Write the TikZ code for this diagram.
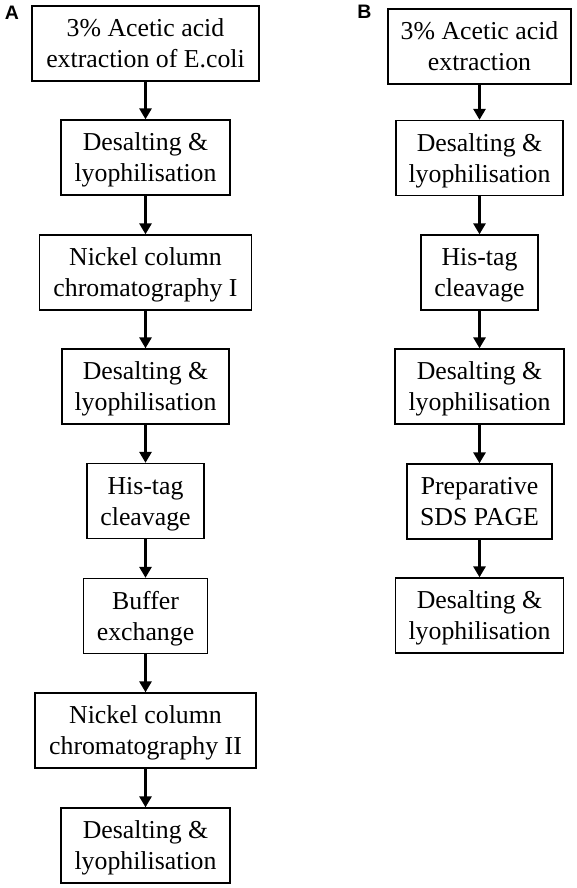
\documentclass[tikz,border=0pt]{standalone}
\usepackage{fontspec}
\setmainfont{Liberation Serif}
\newfontfamily\labfont{Liberation Sans}
\usetikzlibrary{arrows.meta}
\newcommand\ws{\rule[-0.216em]{0pt}{1.107em}}
\begin{document}
\begin{tikzpicture}[x=1pt,y=-1pt,
  stepbox/.style={draw, line width=1.3pt, inner sep=0pt, minimum height=75pt,
    align=center, font=\fontsize{25.8}{31}\selectfont},
  flow/.style={line width=3.2pt, -{Triangle[width=12pt,length=11pt]}},
  panel/.style={inner sep=0pt, font=\labfont\bfseries\fontsize{19.5}{20}\selectfont}]
\useasboundingbox (0,0) rectangle (576,888);
% Column A
\node[stepbox, minimum width=227pt] (a1) at (145.5,43.5) {\ws 3\% Acetic acid\\\ws extraction of E.coli};
\node[stepbox, minimum width=169pt] (a2) at (145.5,157.5) {\ws Desalting \&\\\ws lyophilisation};
\node[stepbox, minimum width=212pt] (a3) at (145.5,272.5) {\ws Nickel column\\\ws chromatography I};
\node[stepbox, minimum width=167pt] (a4) at (145.5,386.5) {\ws Desalting \&\\\ws lyophilisation};
\node[stepbox, minimum width=117pt] (a5) at (145.5,501) {\ws His-tag\\\ws cleavage};
\node[stepbox, minimum width=124pt] (a6) at (145.5,616) {\ws Buffer\\\ws exchange};
\node[stepbox, minimum width=221pt] (a7) at (145.5,730.5) {\ws Nickel column\\\ws chromatography II};
\node[stepbox, minimum width=169pt] (a8) at (145.5,845.5) {\ws Desalting \&\\\ws lyophilisation};
% Column B
\node[stepbox, minimum width=183pt] (b1) at (479.5,46.5) {\ws 3\% Acetic acid\\\ws extraction};
\node[stepbox, minimum width=167pt] (b2) at (479.5,158) {\ws Desalting \&\\\ws lyophilisation};
\node[stepbox, minimum width=117pt] (b3) at (479.5,272.5) {\ws His-tag\\\ws cleavage};
\node[stepbox, minimum width=169pt] (b4) at (479.5,386.5) {\ws Desalting \&\\\ws lyophilisation};
\node[stepbox, minimum width=145pt] (b5) at (479.5,501.5) {\ws Preparative\\\ws SDS PAGE};
\node[stepbox, minimum width=168pt] (b6) at (479.5,615.5) {\ws Desalting \&\\\ws lyophilisation};
% Panel labels
\node[panel] (la) at (12,13) {A};
\node[panel] (lb) at (364.5,12) {B};
% Arrows
\foreach \u/\v in {a1/a2,a2/a3,a3/a4,a4/a5,a5/a6,a6/a7,a7/a8,b1/b2,b2/b3,b3/b4,b4/b5,b5/b6}
  \draw[flow] (\u.south) -- (\v.north);
\end{tikzpicture}
\end{document}
